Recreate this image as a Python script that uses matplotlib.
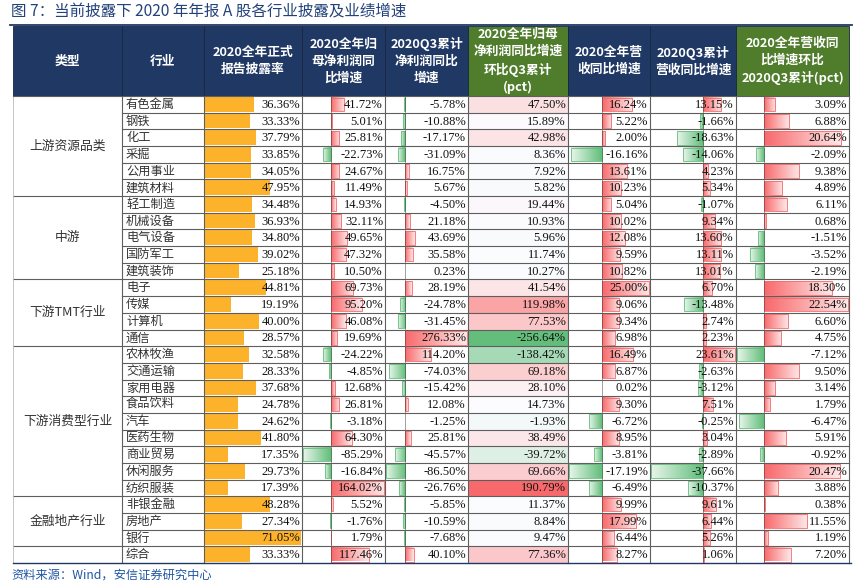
import numpy as np
import matplotlib
matplotlib.use('Agg')
import matplotlib.pyplot as plt
from matplotlib.colors import to_rgb
from matplotlib.patches import Rectangle

plt.rcParams['font.family'] = ['Noto Sans CJK SC', 'DejaVu Sans']

title = '图 7：当前披露下 2020 年年报 A 股各行业披露及业绩增速'
source = '资料来源：Wind，安信证券研究中心'

headers = ['类型', '行业', '2020全年正式\n报告披露率', '2020全年归\n母净利润同\n比增速',
           '2020Q3累计\n净利润同比\n增速', '2020全年归母\n净利润同比增速\n环比Q3累计\n(pct)',
           '2020全年营\n收同比增速', '2020Q3累计\n营收同比增速',
           '2020全年营收同\n比增速环比\n2020Q3累计(pct)']

groups = ['上游资源品类', '中游', '下游TMT行业', '下游消费型行业', '金融地产行业', '']
group_sizes = [6, 5, 4, 9, 3, 1]

industries = ['有色金属', '钢铁', '化工', '采掘', '公用事业', '建筑材料',
              '轻工制造', '机械设备', '电气设备', '国防军工', '建筑装饰',
              '电子', '传媒', '计算机', '通信',
              '农林牧渔', '交通运输', '家用电器', '食品饮料', '汽车', '医药生物', '商业贸易', '休闲服务', '纺织服装',
              '非银金融', '房地产', '银行', '综合']

disclosure = [36.36, 33.33, 37.79, 33.85, 34.05, 47.95, 34.48, 36.93, 34.80, 39.02, 25.18,
              44.81, 19.19, 40.00, 28.57, 32.58, 28.33, 37.68, 24.78, 24.62, 41.80, 17.35,
              29.73, 17.39, 48.28, 27.34, 71.05, 33.33]
np_2020 = [41.72, 5.01, 25.81, -22.73, 24.67, 11.49, 14.93, 32.11, 49.65, 47.32, 10.50,
           69.73, 95.20, 46.08, 19.69, -24.22, -4.85, 12.68, 26.81, -3.18, 64.30, -85.29,
           -16.84, 164.02, 5.52, -1.76, 1.79, 117.46]
np_q3 = [-5.78, -10.88, -17.17, -31.09, 16.75, 5.67, -4.50, 21.18, 43.69, 35.58, 0.23,
         28.19, -24.78, -31.45, 276.33, 114.20, -74.03, -15.42, 12.08, -1.25, 25.81, -45.57,
         -86.50, -26.76, -5.85, -10.59, -7.68, 40.10]
np_diff = [47.50, 15.89, 42.98, 8.36, 7.92, 5.82, 19.44, 10.93, 5.96, 11.74, 10.27,
           41.54, 119.98, 77.53, -256.64, -138.42, 69.18, 28.10, 14.73, -1.93, 38.49, -39.72,
           69.66, 190.79, 11.37, 8.84, 9.47, 77.36]
rev_2020 = [16.24, 5.22, 2.00, -16.16, 13.61, 10.23, 5.04, 10.02, 12.08, 9.59, 10.82,
            25.00, 9.06, 9.34, 6.98, 16.49, 6.87, 0.02, 9.30, -6.72, 8.95, -3.81,
            -17.19, -6.49, 9.99, 17.99, 6.44, 8.27]
rev_q3 = [13.15, -1.66, -18.63, -14.06, 4.23, 5.34, -1.07, 9.34, 13.60, 13.11, 13.01,
          6.70, -13.48, 2.74, 2.23, 23.61, -2.63, -3.12, 7.51, -0.25, 3.04, -2.89,
          -37.66, -10.37, 9.61, 6.44, 5.26, 1.06]
rev_diff = [3.09, 6.88, 20.64, -2.09, 9.38, 4.89, 6.11, 0.68, -1.51, -3.52, -2.19,
            18.30, 22.54, 6.60, 4.75, -7.12, 9.50, 3.14, 1.79, -6.47, 5.91, -0.92,
            20.47, 3.88, 0.38, 11.55, 1.19, 7.20]

# ---------------- layout (pixel space) ----------------
W, H = 864, 586
col_edges = [13, 122, 204, 302, 385, 468, 568, 650, 736, 849]
head_top, head_bot, table_bot = 26, 96, 563
n = len(industries)
row_h = (table_bot - head_bot) / n

NAVY = '#1F3864'
GREEN_H = '#4F7D2C'
RED = np.array(to_rgb('#F8696B'))
GRN = np.array(to_rgb('#63BE7B'))
WHITE = np.array([1.0, 1.0, 1.0])
MIDC = np.array(to_rgb('#FCFCFF'))
ORANGE = '#FDB22B'
GRID = '#5E5E5E'
SERIF = 'Liberation Serif'

fig = plt.figure(figsize=(W / 100, H / 100), dpi=100)
ax = fig.add_axes([0, 0, 1, 1])


def row_y(i):
    return head_bot + i * row_h


# ---------------- header ----------------
for c, txt in enumerate(headers):
    x0, x1 = col_edges[c], col_edges[c + 1]
    fc = GREEN_H if c in (5, 8) else NAVY
    ax.add_patch(Rectangle((x0, head_top), x1 - x0, head_bot - head_top, facecolor=fc,
                           edgecolor='#17263F', lw=0.6, zorder=1))
    ax.text((x0 + x1) / 2, (head_top + head_bot) / 2, txt, ha='center', va='center',
            color='white', fontsize=9.2, fontweight='bold', linespacing=1.4, zorder=5)

# ---------------- col 6 colour scale ----------------
def colour_scale(vals):
    v = np.asarray(vals)
    vmin, vmax, mid = v.min(), v.max(), np.percentile(v, 50)
    out = []
    for x in v:
        if x <= mid:
            t = (x - vmin) / (mid - vmin)
            out.append(GRN * (1 - t) + MIDC * t)
        else:
            t = (x - mid) / (vmax - mid)
            out.append(MIDC * (1 - t) + RED * t)
    return out

cs = colour_scale(np_diff)
for i in range(n):
    x0, x1 = col_edges[5], col_edges[6]
    ax.add_patch(Rectangle((x0, row_y(i)), x1 - x0, row_h, facecolor=cs[i],
                           edgecolor='none', zorder=1))

# ---------------- orange bars (disclosure) ----------------
dmax = max(disclosure)
for i, v in enumerate(disclosure):
    x0, x1 = col_edges[2], col_edges[3]
    L = v / dmax * (x1 - x0 - 2)
    ax.add_patch(Rectangle((x0 + 1, row_y(i) + 1), L, row_h - 2, facecolor=ORANGE,
                           edgecolor='none', zorder=2))

# ---------------- gradient data bars ----------------
def databars(col, vals):
    x0, x1 = col_edges[col], col_edges[col + 1]
    vmin = min(min(vals), 0)
    vmax = max(max(vals), 0)
    scale = (x1 - x0 - 2) / (vmax - vmin)
    axis_x = x0 + 1 - vmin * scale
    for i, v in enumerate(vals):
        base = GRN if v < 0 else RED
        light = base * 0.15 + WHITE * 0.85
        N = 64
        t = np.linspace(0, 1, N)[:, None]
        grad = base * (1 - t) + light * t  # solid at axis -> light
        if v < 0:
            grad = grad[::-1]
        xa = axis_x + min(v, 0) * scale
        xb = axis_x + max(v, 0) * scale
        y0 = row_y(i) + 1.5
        y1 = row_y(i) + row_h - 1.5
        if xb - xa < 0.3:
            continue
        ax.imshow(grad[None, :, :], extent=(xa, xb, y1, y0), aspect='auto',
                  interpolation='bilinear', zorder=2)
        ax.add_patch(Rectangle((xa, y0), xb - xa, y1 - y0, facecolor='none',
                               edgecolor=base, lw=0.6, zorder=3))
    ax.plot([axis_x, axis_x], [head_bot, table_bot], color='#222222', lw=0.6,
            ls=(0, (1.2, 1.2)), zorder=3)

databars(3, np_2020)
databars(4, np_q3)
databars(6, rev_2020)
databars(7, rev_q3)
databars(8, rev_diff)

# ---------------- text ----------------
value_cols = [(2, disclosure), (3, np_2020), (4, np_q3), (5, np_diff),
              (6, rev_2020), (7, rev_q3), (8, rev_diff)]
for c, vals in value_cols:
    for i, v in enumerate(vals):
        ax.text(col_edges[c + 1] - 2, row_y(i) + row_h / 2 + 0.5, f'{v:.2f}%',
                ha='right', va='center', fontsize=9, family=SERIF, color='#111111', zorder=6)

for i, name in enumerate(industries):
    ax.text(col_edges[1] + 4, row_y(i) + row_h / 2, name, ha='left', va='center',
            fontsize=8.8, color='#333333', zorder=6)

start = 0
boundaries = []
for g, s in zip(groups, group_sizes):
    yc = row_y(start) + s * row_h / 2
    ax.text((col_edges[0] + col_edges[1]) / 2, yc, g, ha='center', va='center',
            fontsize=9.2, color='#333333', zorder=6)
    start += s
    boundaries.append(start)

# ---------------- grid ----------------
for i in range(1, n):
    xs = col_edges[0] if i in boundaries else col_edges[1]
    ax.plot([xs, col_edges[-1]], [row_y(i), row_y(i)], color=GRID, lw=0.8, zorder=4)
for x in col_edges[1:-1]:
    ax.plot([x, x], [head_bot, table_bot], color=GRID, lw=0.8, zorder=4)
ax.plot([col_edges[0], col_edges[0]], [head_bot, table_bot], color='#BBBBBB', lw=0.6, zorder=4)
ax.plot([col_edges[-1], col_edges[-1]], [head_bot, table_bot], color=GRID, lw=0.8, zorder=4)
ax.plot([col_edges[0], col_edges[-1]], [head_bot, head_bot], color=GRID, lw=0.8, zorder=4)
ax.plot([10, 852], [head_top - 1, head_top - 1], color=NAVY, lw=1.3, zorder=4)
ax.plot([col_edges[0], col_edges[-1] + 2], [table_bot, table_bot], color=NAVY, lw=1.0, zorder=4)

# ---------------- title & source ----------------
ax.text(11, 12, title, ha='left', va='center', fontsize=11.2, color='#22427A', zorder=6)
ax.text(11, 575, source, ha='left', va='center', fontsize=8.8, color='#2156A5', zorder=6)

ax.set_xlim(0, W)
ax.set_ylim(H, 0)
ax.axis('off')
fig.savefig('out.png', dpi=100)
